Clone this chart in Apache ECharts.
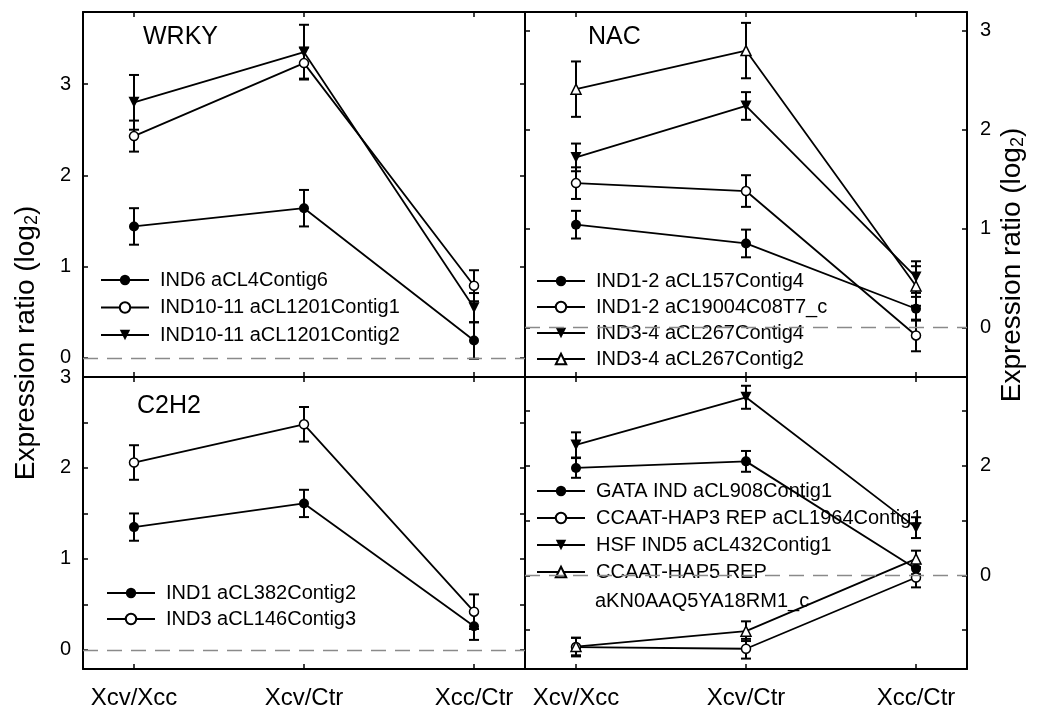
<!DOCTYPE html>
<html>
<head>
<meta charset="utf-8">
<script src="https://cdn.jsdelivr.net/npm/echarts@6/dist/echarts.min.js"></script>
<style>
html, body { margin: 0; padding: 0; background: #fff; }
#chart { width: 1041px; height: 710px; }
</style>
</head>
<body>
<div id="chart"></div>
<script>
var categories = ['Xcv/Xcc', 'Xcv/Ctr', 'Xcc/Ctr'];

// WRKY
var wrkyNames = ['IND6 aCL4Contig6', 'IND10-11 aCL1201Contig1', 'IND10-11 aCL1201Contig2'];
var wrky1 = [1.44, 1.64, 0.19];
var wrky1Err = [0.20, 0.20, 0.20];
var wrky2 = [2.43, 3.23, 0.79];
var wrky2Err = [0.17, 0.17, 0.17];
var wrky3 = [2.80, 3.35, 0.55];
var wrky3Err = [0.30, 0.30, 0.16];

// NAC
var nacNames = ['IND1-2 aCL157Contig4', 'IND1-2 aC19004C08T7_c', 'IND3-4 aCL267Contig4', 'IND3-4 aCL267Contig2'];
var nac1 = [1.04, 0.85, 0.19];
var nac1Err = [0.14, 0.14, 0.12];
var nac2 = [1.46, 1.38, -0.08];
var nac2Err = [0.16, 0.16, 0.16];
var nac3 = [1.72, 2.24, 0.51];
var nac3Err = [0.14, 0.14, 0.16];
var nac4 = [2.41, 2.80, 0.42];
var nac4Err = [0.28, 0.28, 0.20];

// C2H2
var c2h2Names = ['IND1 aCL382Contig2', 'IND3 aCL146Contig3'];
var c2h21 = [1.35, 1.61, 0.26];
var c2h21Err = [0.15, 0.15, 0.15];
var c2h22 = [2.06, 2.48, 0.42];
var c2h22Err = [0.19, 0.19, 0.19];

// other families
var otherNames = ['GATA IND aCL908Contig1', 'CCAAT-HAP3 REP aCL1964Contig1', 'HSF IND5 aCL432Contig1', 'CCAAT-HAP5 REP'];
var otherName4Line2 = 'aKN0AAQ5YA18RM1_c';
var other1 = [1.96, 2.08, 0.12];
var other1Err = [0.18, 0.19, 0.10];
var other2 = [-1.31, -1.34, -0.04];
var other2Err = [0.17, 0.18, 0.18];
var other3 = [2.38, 3.25, 0.87];
var other3Err = [0.23, 0.21, 0.19];
var other4 = [-1.30, -1.02, 0.30];
var other4Err = [0.16, 0.18, 0.15];

// tick labels
var ticksTL = [0, 1, 2, 3];
var ticksTR = [0, 1, 2, 3];
var ticksBL = [0, 0.5, 1, 1.5, 2, 2.5, 3];
var labelsBL = [0, 1, 2, 3];
var ticksBR = [-1, 0, 1, 2, 3];
var labelsBR = [0, 2];

var FONT = '"Liberation Sans", Arial, sans-serif';

var chart = echarts.init(document.getElementById('chart'));

var symbols = {
    filled: { symbol: 'circle', symbolSize: 10, symbolRotate: 0, itemStyle: { color: '#000' } },
    open: { symbol: 'circle', symbolSize: 9, symbolRotate: 0, itemStyle: { color: '#fff', borderColor: '#000', borderWidth: 1.5 } },
    down: { symbol: 'triangle', symbolSize: 11, symbolRotate: 180, itemStyle: { color: '#000' } },
    up: { symbol: 'triangle', symbolSize: 10, symbolRotate: 0, itemStyle: { color: '#fff', borderColor: '#000', borderWidth: 1.5 } }
};

// error bar with caps
function renderErr(params, api) {
    var x = api.value(0), y = api.value(1), e = api.value(2);
    var hi = api.coord([x, y + e]);
    var lo = api.coord([x, y - e]);
    var w = 5;
    var st = { stroke: '#000', lineWidth: 2 };
    return {
        type: 'group',
        children: [
            { type: 'line', shape: { x1: hi[0], y1: hi[1], x2: lo[0], y2: lo[1] }, style: st },
            { type: 'line', shape: { x1: hi[0] - w, y1: hi[1], x2: hi[0] + w, y2: hi[1] }, style: st },
            { type: 'line', shape: { x1: lo[0] - w, y1: lo[1], x2: lo[0] + w, y2: lo[1] }, style: st }
        ]
    };
}

var series = [];

function addGene(grid, name, values, errs, sym) {
    var pts = [], bars = [];
    for (var i = 0; i < values.length; i++) {
        pts.push([i, values[i]]);
        bars.push([i, values[i], errs[i]]);
    }
    series.push({
        type: 'custom',
        name: name + ' err',
        xAxisIndex: grid * 2,
        yAxisIndex: grid * 2,
        renderItem: renderErr,
        encode: { x: 0, y: 1 },
        data: bars,
        z: 1,
        silent: true
    });
    var s = {
        type: 'line',
        name: name,
        xAxisIndex: grid * 2,
        yAxisIndex: grid * 2,
        data: pts,
        symbol: sym.symbol,
        symbolSize: sym.symbolSize,
        symbolRotate: sym.symbolRotate,
        itemStyle: sym.itemStyle,
        lineStyle: { color: '#000', width: 1.8 },
        color: '#000',
        z: 3
    };
    series.push(s);
    return s;
}

function zeroLine(s) {
    s.markLine = {
        silent: true,
        symbol: 'none',
        label: { show: false },
        lineStyle: { color: '#8a8a8a', width: 1.3, type: [15, 9] },
        data: [{ yAxis: 0 }]
    };
}

zeroLine(addGene(0, wrkyNames[0], wrky1, wrky1Err, symbols.filled));
addGene(0, wrkyNames[1], wrky2, wrky2Err, symbols.open);
addGene(0, wrkyNames[2], wrky3, wrky3Err, symbols.down);

zeroLine(addGene(1, nacNames[0], nac1, nac1Err, symbols.filled));
addGene(1, nacNames[1], nac2, nac2Err, symbols.open);
addGene(1, nacNames[2], nac3, nac3Err, symbols.down);
addGene(1, nacNames[3], nac4, nac4Err, symbols.up);

zeroLine(addGene(2, c2h2Names[0], c2h21, c2h21Err, symbols.filled));
addGene(2, c2h2Names[1], c2h22, c2h22Err, symbols.open);

zeroLine(addGene(3, otherNames[0], other1, other1Err, symbols.filled));
addGene(3, otherNames[1], other2, other2Err, symbols.open);
addGene(3, otherNames[2], other3, other3Err, symbols.down);
addGene(3, otherNames[3], other4, other4Err, symbols.up);

var axisLine = { show: true, onZero: false, lineStyle: { color: '#000', width: 2 } };

function xAx(g, pos, showLabel) {
    return {
        type: 'value', gridIndex: g, position: pos, min: -0.3, max: 2.3,
        axisLine: axisLine,
        axisTick: { show: true, inside: true, length: 5, customValues: [0, 1, 2], lineStyle: { color: '#000', width: 1.5 } },
        axisLabel: {
            show: showLabel, customValues: [0, 1, 2], margin: 17,
            formatter: function (v) { return categories[Math.round(v)]; },
            fontSize: 24, color: '#000', fontFamily: FONT
        },
        splitLine: { show: false }
    };
}

function yAx(g, pos, min, max, ticks, labels, showLabel, margin) {
    return {
        type: 'value', gridIndex: g, position: pos, min: min, max: max,
        axisLine: axisLine,
        axisTick: { show: true, inside: true, length: 5, customValues: ticks, lineStyle: { color: '#000', width: 1.5 } },
        axisLabel: { show: showLabel, customValues: labels, margin: margin, fontSize: 20, color: '#000', fontFamily: FONT },
        splitLine: { show: false }
    };
}

function legendAt(names, left, top, gap) {
    return {
        data: names, orient: 'vertical', left: left, top: top, padding: 0,
        itemWidth: 48, itemHeight: 13, itemGap: gap,
        selectedMode: false,
        textStyle: { fontSize: 20, lineHeight: 20, color: '#000', fontFamily: FONT, padding: [0, 0, 0, 6] }
    };
}

var yName = '{n|Expression ratio (log}{s|2}{n|)}';
var yRich = {
    n: { fontSize: 28, fontFamily: FONT, color: '#000', lineHeight: 30 },
    s: { fontSize: 18, fontFamily: FONT, color: '#000', lineHeight: 18, verticalAlign: 'bottom' }
};

var option = {
    backgroundColor: '#fff',
    animation: false,
    grid: [
        { left: 83, top: 12, width: 442, height: 365 },
        { left: 525, top: 12, width: 442, height: 365 },
        { left: 83, top: 377, width: 442, height: 294.5 },
        { left: 525, top: 377, width: 442, height: 294.5 }
    ],
    xAxis: [
        xAx(0, 'bottom', false), xAx(0, 'top', false),
        xAx(1, 'bottom', false), xAx(1, 'top', false),
        xAx(2, 'bottom', true), xAx(2, 'top', false),
        xAx(3, 'bottom', true), xAx(3, 'top', false)
    ],
    yAxis: [
        yAx(0, 'left', -0.21, 3.79, ticksTL, ticksTL, true, 12), yAx(0, 'right', -0.21, 3.79, ticksTL, ticksTL, false, 12),
        yAx(1, 'left', -0.5, 3.19, ticksTR, ticksTR, false, 13), yAx(1, 'right', -0.5, 3.19, ticksTR, ticksTR, true, 13),
        yAx(2, 'left', -0.21, 3.0, ticksBL, labelsBL, true, 12), yAx(2, 'right', -0.21, 3.0, ticksBL, labelsBL, false, 12),
        yAx(3, 'left', -1.71, 3.62, ticksBR, labelsBR, false, 13), yAx(3, 'right', -1.71, 3.62, ticksBR, labelsBR, true, 13)
    ],
    legend: [
        legendAt(wrkyNames, 100, 270, 7.5),
        legendAt(nacNames, 536, 271, 6),
        legendAt(c2h2Names, 106, 583, 6),
        legendAt(otherNames, 536, 481, 7)
    ],
    graphic: [
        { type: 'text', x: 143, y: 37, style: { text: 'WRKY', font: '25px ' + FONT, fill: '#000', verticalAlign: 'middle' } },
        { type: 'text', x: 588, y: 37, style: { text: 'NAC', font: '25px ' + FONT, fill: '#000', verticalAlign: 'middle' } },
        { type: 'text', x: 137, y: 406, style: { text: 'C2H2', font: '25px ' + FONT, fill: '#000', verticalAlign: 'middle' } },
        { type: 'text', x: 595, y: 601, style: { text: otherName4Line2, font: '20px ' + FONT, fill: '#000', verticalAlign: 'middle' } },
        { type: 'text', x: 26, y: 343, rotation: Math.PI / 2, style: { text: yName, rich: yRich, align: 'center', verticalAlign: 'middle' } },
        { type: 'text', x: 1012, y: 265, rotation: Math.PI / 2, style: { text: yName, rich: yRich, align: 'center', verticalAlign: 'middle' } }
    ],
    series: series
};

chart.setOption(option);
</script>
</body>
</html>
